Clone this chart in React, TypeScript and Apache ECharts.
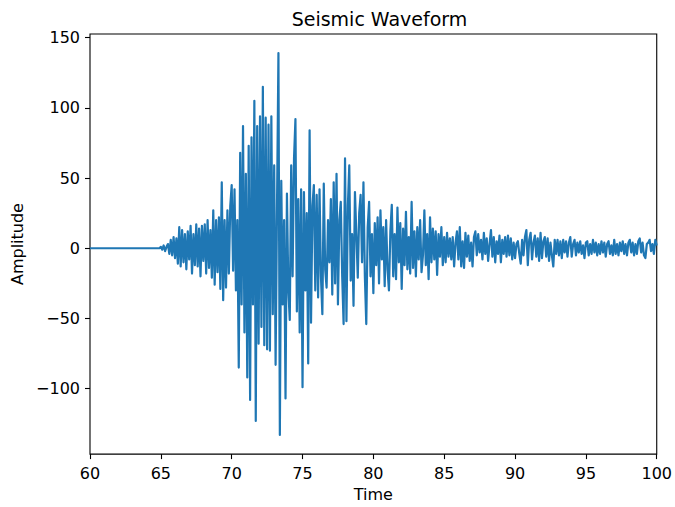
import React, { useEffect, useRef } from "react";
import * as echarts from "echarts";

// Trace sampling: first sample time and sample spacing (seconds)
const T0 = 60;
const DT = 0.1;

// Ground-motion amplitude, one row per second of record
const amplitude: number[] = [
  0, 0, 0, 0, 0, 0, 0, 0, 0, 0, // 60
  0, 0, 0, 0, 0, 0, 0, 0, 0, 0, // 61
  0, 0, 0, 0, 0, 0, 0, 0, 0, 0, // 62
  0, 0, 0, 0, 0, 0, 0, 0, 0, 0, // 63
  0, 0, 0, 0, 0, 0, 0, 0, 0, 0, // 64
  1, -1, 2, -2, 1, 3, -4, 6, -5, 8, // 65
  -7, 7, -11, 15, -13, 13, -10, 10, -15, 12, // 66
  -8, 16, -18, 10, -12, 17, -13, 14, -20, 16, // 67
  -9, 17, -18, 20, -14, 13, -21, 27, -26, 20, // 68
  -17, 22, -29, 47, -37, 20, -28, 27, -18, 30, // 69
  45, -16, 42, -30, 20, -85, 68, -40, 87, -60, // 70
  53, -92, 73, -108, 79, -40, 105, -123, 87, -68, // 71
  94, -56, 115, -69, 93, -72, 88, -73, 94, -47, // 72
  59, -83, 30, 139, -133, 48, -40, 20, -107, 39, // 73
  -30, -51, 59, -20, 64, 92, -45, 35, -60, 42, // 74
  -99, 40, -30, 25, -82, 84, -53, 30, 45, -30, // 75
  38, -35, 42, -20, -47, 46, -15, -28, 20, -10, // 76
  35, -33, 47, -25, 53, -40, 20, 33, -20, -54, // 77
  64, -52, 30, 59, -23, 10, -41, 40, 10, -21, // 78
  25, 38, -10, 47, -20, -54, 15, 33, -20, 10, // 79
  -32, 18, -12, 22, -25, 27, -8, 15, -27, 20, // 80
  -15, -30, 12, 31, -20, 10, -22, 29, -10, 18, // 81
  -29, 14, -12, 26, -15, 8, -18, 33, -14, 12, // 82
  -20, 15, -8, 20, -17, -5, 27, -12, 10, -22, // 83
  22, -10, 14, -8, 12, -19, 10, -6, 15, -12, // 84
  8, -10, 11, -6, 7, -8, 8, -13, 4, 12, // 85
  -8, 15, -13, 5, -14, 11, -6, 9, -9, 4, // 86
  -13, 8, 12, -5, 10, -3, 6, -8, 11, -4, // 87
  7, -9, 3, 13, -6, 8, -10, 5, -4, 9, // 88
  -10, 6, -4, 8, -6, 9, -5, 7, -8, 4, // 89
  -7, 3, 5, -4, -11, 6, -5, 8, 13, -12, // 90
  6, 11, -8, 4, 9, -6, 7, -9, 11, -7, // 91
  5, 8, -6, 7, -9, 4, -5, -13, 6, -4, // 92
  6, -5, 5, -7, 6, -3, 5, -6, 4, 8, // 93
  -6, 3, 6, -5, 4, -3, 5, -4, 2, -7, // 94
  4, 5, -5, 3, -4, 6, -3, 4, -5, 3, // 95
  -4, 5, -3, 4, -6, 3, 5, -4, 2, -5, // 96
  6, -4, 3, -5, 4, -2, 5, -4, 3, -5, // 97
  4, 6, -3, 4, -5, 3, -4, 5, 7, -3, // 98
  4, -5, -7, 3, 4, 6, -2, 3, -4, 6, // 99
  2, // 100
];

const xRange = [60, 100];
const xStep = 5;
const yTicks = [-100, -50, 0, 50, 100, 150];

const FONT = "DejaVu Sans";

export default function App() {
  const ref = useRef<HTMLDivElement>(null);

  useEffect(() => {
    if (!ref.current) return;
    const chart = echarts.init(ref.current, undefined, { renderer: "svg" });

    const data = amplitude.map((a, i) => [+(T0 + i * DT).toFixed(2), a]);

    // 5% padding around the data extent on the amplitude axis
    const lo = Math.min(...amplitude);
    const hi = Math.max(...amplitude);
    const pad = (hi - lo) * 0.05;

    const tickStyle = { color: "#000", width: 1.1 };
    const labelStyle = { color: "#000", fontSize: 16, fontFamily: FONT };

    chart.setOption({
      animation: false,
      backgroundColor: "#fff",
      textStyle: { fontFamily: FONT },
      title: {
        text: "Seismic Waveform",
        left: 374.5,
        top: 4,
        textAlign: "center",
        textStyle: { fontFamily: FONT, fontSize: 19, fontWeight: "normal", color: "#000" },
      },
      grid: {
        left: 90,
        right: 16,
        top: 34,
        bottom: 47,
        show: true,
        borderColor: "#000",
        borderWidth: 1.1,
        backgroundColor: "transparent",
      },
      xAxis: {
        type: "value",
        min: xRange[0],
        max: xRange[1],
        interval: xStep,
        name: "Time",
        nameLocation: "middle",
        nameGap: 31,
        nameTextStyle: { ...labelStyle },
        axisLine: { show: false, onZero: false },
        axisTick: { show: true, length: 5, inside: false, lineStyle: tickStyle },
        axisLabel: { ...labelStyle, margin: 11 },
        splitLine: { show: false },
      },
      yAxis: {
        type: "value",
        min: lo - pad,
        max: hi + pad,
        name: "Amplitude",
        nameLocation: "middle",
        nameRotate: 90,
        nameGap: 62,
        nameTextStyle: { ...labelStyle },
        axisLine: { show: false },
        axisTick: { show: true, length: 5, inside: false, customValues: yTicks, lineStyle: tickStyle },
        axisLabel: {
          ...labelStyle,
          margin: 10,
          customValues: yTicks,
          formatter: (v: number) => String(v).replace("-", "\u2212"),
        },
        splitLine: { show: false },
      },
      series: [
        {
          type: "line",
          data,
          showSymbol: false,
          symbol: "none",
          silent: true,
          clip: true,
          lineStyle: { color: "#1f77b4", width: 2.2, join: "round" },
          itemStyle: { color: "#1f77b4" },
        },
      ],
    });

    return () => chart.dispose();
  }, []);

  return (
    <div
      ref={ref}
      style={{ position: "fixed", left: 0, top: 0, width: 675, height: 507 }}
    />
  );
}
